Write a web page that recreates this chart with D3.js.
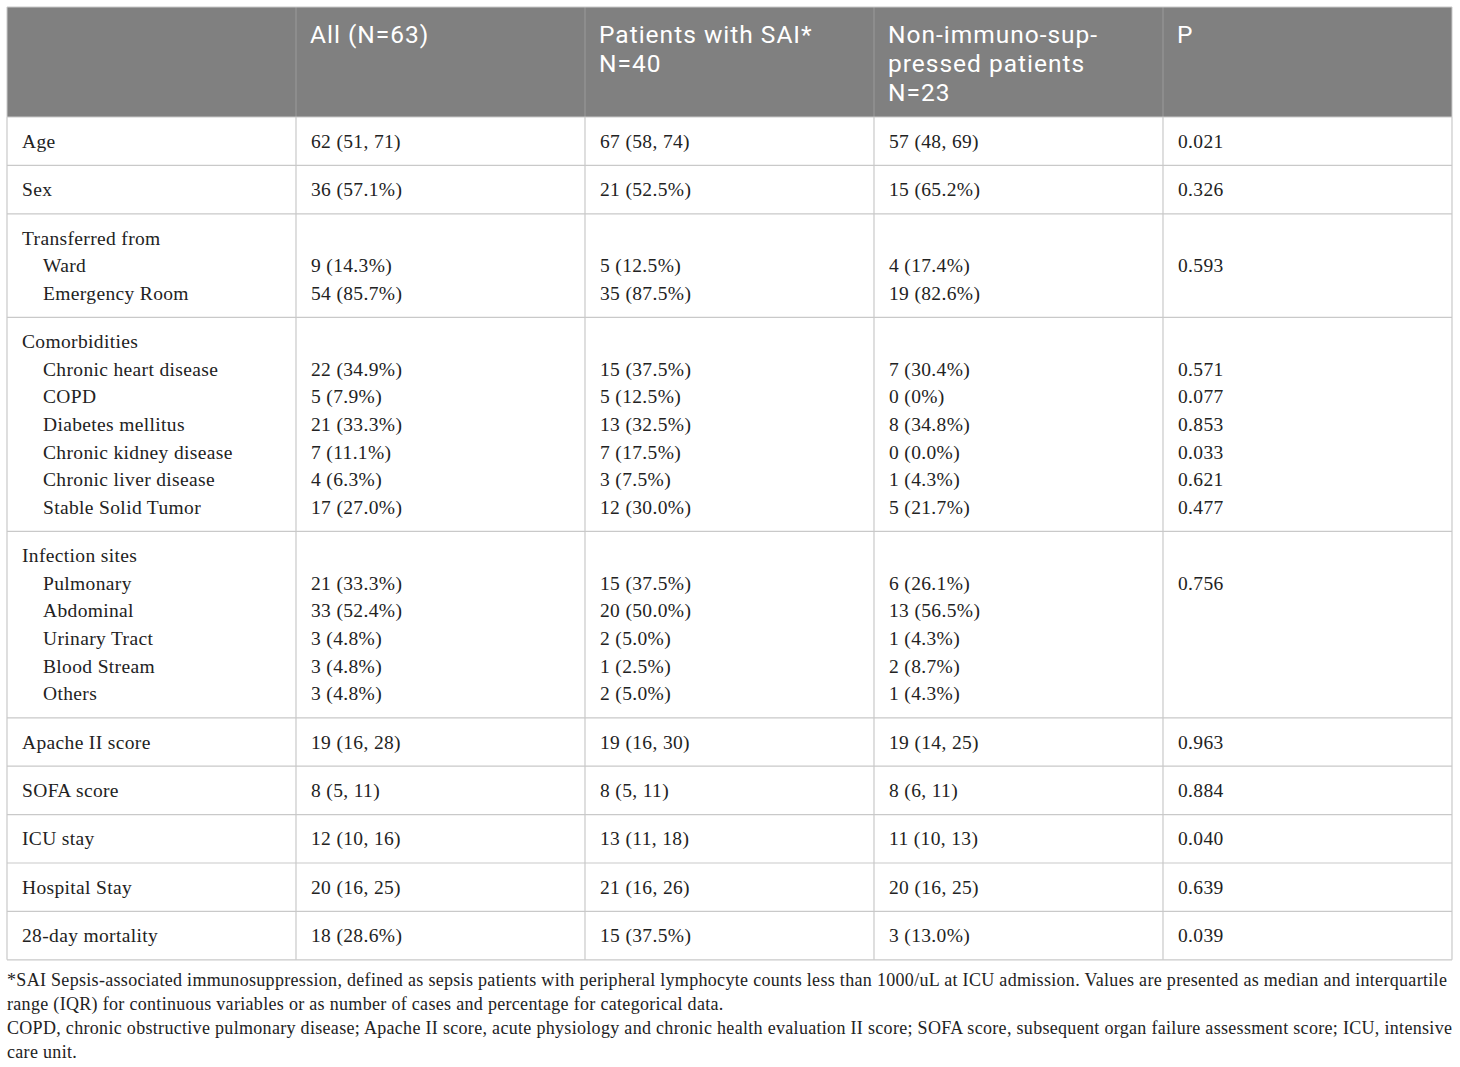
<!DOCTYPE html>
<html><head><meta charset="utf-8">
<script src="https://cdn.jsdelivr.net/npm/d3@7"></script>
<style>body{margin:0;background:#fff}</style>
</head><body>
<svg id="c" width="1460" height="1067"></svg>
<script>
const headers = [[""], ["All (N=63)"], ["Patients with SAI*", "N=40"], ["Non-immuno-sup-", "pressed patients", "N=23"], ["P"]];
const rowLabels = ["Age","Sex","Transferred from","Ward","Emergency Room","Comorbidities","Chronic heart disease","COPD","Diabetes mellitus","Chronic kidney disease","Chronic liver disease","Stable Solid Tumor","Infection sites","Pulmonary","Abdominal","Urinary Tract","Blood Stream","Others","Apache II score","SOFA score","ICU stay","Hospital Stay","28-day mortality"];
const rowIndent = [0,0,0,1,1,0,1,1,1,1,1,1,0,1,1,1,1,1,0,0,0,0,0];
const rowGroup  = [0,1,2,2,2,3,3,3,3,3,3,3,4,4,4,4,4,4,5,6,7,8,9];
const allValues = ["62 (51, 71)","36 (57.1%)","","9 (14.3%)","54 (85.7%)","","22 (34.9%)","5 (7.9%)","21 (33.3%)","7 (11.1%)","4 (6.3%)","17 (27.0%)","","21 (33.3%)","33 (52.4%)","3 (4.8%)","3 (4.8%)","3 (4.8%)","19 (16, 28)","8 (5, 11)","12 (10, 16)","20 (16, 25)","18 (28.6%)"];
const saiValues = ["67 (58, 74)","21 (52.5%)","","5 (12.5%)","35 (87.5%)","","15 (37.5%)","5 (12.5%)","13 (32.5%)","7 (17.5%)","3 (7.5%)","12 (30.0%)","","15 (37.5%)","20 (50.0%)","2 (5.0%)","1 (2.5%)","2 (5.0%)","19 (16, 30)","8 (5, 11)","13 (11, 18)","21 (16, 26)","15 (37.5%)"];
const nonValues = ["57 (48, 69)","15 (65.2%)","","4 (17.4%)","19 (82.6%)","","7 (30.4%)","0 (0%)","8 (34.8%)","0 (0.0%)","1 (4.3%)","5 (21.7%)","","6 (26.1%)","13 (56.5%)","1 (4.3%)","2 (8.7%)","1 (4.3%)","19 (14, 25)","8 (6, 11)","11 (10, 13)","20 (16, 25)","3 (13.0%)"];
const pValues   = ["0.021","0.326","","0.593","","","0.571","0.077","0.853","0.033","0.621","0.477","","0.756","","","","","0.963","0.884","0.040","0.639","0.039"];
const footnotes = [
  "*SAI Sepsis-associated immunosuppression, defined as sepsis patients with peripheral lymphocyte counts less than 1000/uL at ICU admission. Values are presented as median and interquartile",
  "range (IQR) for continuous variables or as number of cases and percentage for categorical data.",
  "COPD, chronic obstructive pulmonary disease; Apache II score, acute physiology and chronic health evaluation II score; SOFA score, subsequent organ failure assessment score; ICU, intensive",
  "care unit."
];

const svg = d3.select("#c");
const tLeft = 7, tRight = 1452, tTop = 7, headH = 110;
const x = d3.scaleBand().domain(d3.range(5)).range([tLeft, tRight]);
const bodyTop = tTop + headH;
const linePitch = 27.6, groupPad = 20.8;
const yLine = d3.scaleLinear().domain([0, 1]).range([0, linePitch]);
const rowY = rowLabels.map((d, i) => bodyTop + yLine(i) + rowGroup[i] * groupPad + groupPad / 2);
const nGroups = d3.max(rowGroup) + 1;
const groupTop = d3.range(nGroups).map(g => rowY[rowGroup.indexOf(g)] - groupPad / 2);
const groupBottom = d3.range(nGroups).map(g => rowY[rowGroup.lastIndexOf(g)] + linePitch + groupPad / 2);
const bodyBottom = groupBottom[nGroups - 1];

// header
svg.append("rect").attr("x", tLeft).attr("y", tTop).attr("width", tRight - tLeft).attr("height", headH).attr("fill", "#808080");
const hg = svg.append("g").attr("fill", "#fff").attr("font-family", "Roboto, 'Open Sans', sans-serif")
  .attr("font-size", 24.5).attr("letter-spacing", 1.0);
headers.forEach((lines, c) => {
  hg.selectAll(null).data(lines).join("text")
    .attr("x", x(c) + 14).attr("y", (d, k) => tTop + 35.5 + k * 29).text(d => d);
});
d3.range(1, 5).forEach(c => {
  svg.append("line").attr("x1", x(c)).attr("x2", x(c)).attr("y1", tTop).attr("y2", bodyTop).attr("stroke", "#9a9a9a").attr("stroke-width", 1);
});

// grid lines
const gridColor = "#c9c9c9";
groupTop.concat([bodyBottom]).forEach(y => {
  svg.append("line").attr("x1", tLeft).attr("x2", tRight).attr("y1", y).attr("y2", y).attr("stroke", gridColor).attr("stroke-width", 1.2);
});
d3.range(0, 6).forEach(c => {
  const xx = c === 5 ? tRight : x(c);
  svg.append("line").attr("x1", xx).attr("x2", xx).attr("y1", bodyTop).attr("y2", bodyBottom).attr("stroke", gridColor).attr("stroke-width", 1.2);
});
svg.append("line").attr("x1", tLeft).attr("x2", tLeft).attr("y1", tTop).attr("y2", bodyTop).attr("stroke", gridColor);
svg.append("line").attr("x1", tRight).attr("x2", tRight).attr("y1", tTop).attr("y2", bodyTop).attr("stroke", gridColor);
svg.append("line").attr("x1", tLeft).attr("x2", tRight).attr("y1", tTop).attr("y2", tTop).attr("stroke", gridColor);

// body text
const cols = [rowLabels, allValues, saiValues, nonValues, pValues];
const bg = svg.append("g").attr("font-family", "'Liberation Serif', 'Times New Roman', serif")
  .attr("font-size", 19.5).attr("letter-spacing", 0.35).attr("fill", "#222");
cols.forEach((vals, c) => {
  bg.selectAll(null).data(vals).join("text")
    .attr("x", (d, i) => x(c) + 15 + (c === 0 ? rowIndent[i] * 21 : 0))
    .attr("y", (d, i) => rowY[i] + linePitch / 2 + 6.5)
    .text(d => d);
});

// footnotes
svg.append("g").attr("font-family", "'Liberation Serif', 'Times New Roman', serif")
  .attr("font-size", 18).attr("letter-spacing", 0.31).attr("fill", "#222")
  .selectAll(null).data(footnotes).join("text")
  .attr("x", tLeft).attr("y", (d, i) => bodyBottom + 26 + i * 24)
  .text(d => d);
</script>
</body></html>
